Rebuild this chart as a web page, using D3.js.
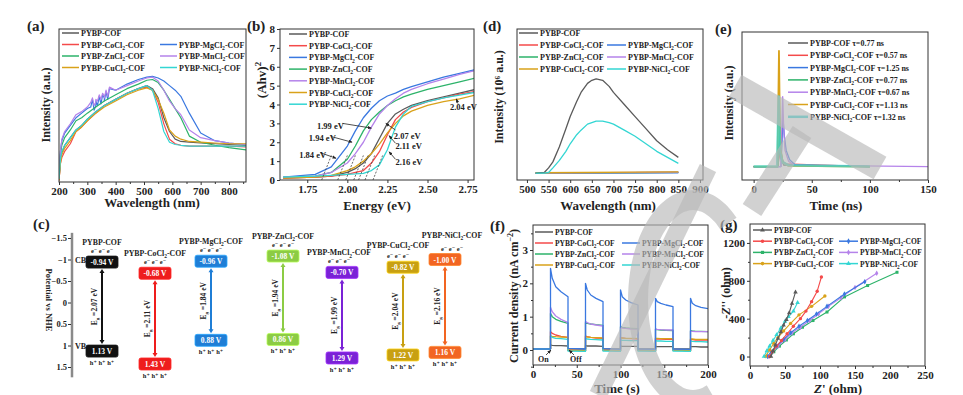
<!DOCTYPE html>
<html>
<head>
<meta charset="utf-8">
<script src="https://cdn.jsdelivr.net/npm/d3@7"></script>
<style>
  body { margin: 0; background: #fff; }
  svg { display: block; }
</style>
</head>
<body>
<svg id="fig" width="963" height="395"></svg>
<script>
// ---------------- data ----------------
const names = ["PYBP-COF", "PYBP-CoCl2-COF", "PYBP-MgCl2-COF", "PYBP-ZnCl2-COF",
               "PYBP-MnCl2-COF", "PYBP-CuCl2-COF", "PYBP-NiCl2-COF"];
const lineColors = ["#5a5a5a", "#f44a4a", "#3a78e0", "#2db36a", "#b583ea", "#d9a21a", "#33d6d3"];

// (a) UV-vis DRS
const aWl = [200,205,210,220,240,260,280,300,330,360,400,440,480,510,530,550,570,590,610,630,660,700,750,800,860];
const aCOF = [0.01,0.14,0.19,0.24,0.29,0.34,0.37,0.41,0.46,0.5,0.54,0.58,0.61,0.63,0.61,0.55,0.42,0.33,0.28,0.265,0.26,0.255,0.25,0.245,0.24];
const aCo  = [0.01,0.12,0.16,0.2,0.25,0.33,0.36,0.4,0.45,0.5,0.54,0.58,0.61,0.62,0.6,0.52,0.38,0.28,0.25,0.24,0.235,0.235,0.235,0.235,0.23];
const aMg  = [0.02,0.2,0.27,0.32,0.37,0.42,0.45,0.48,0.5,0.55,0.6,0.64,0.67,0.685,0.69,0.68,0.66,0.63,0.6,0.56,0.45,0.32,0.27,0.255,0.245];
const aZn  = [0.02,0.18,0.24,0.29,0.34,0.4,0.42,0.45,0.49,0.53,0.57,0.61,0.64,0.665,0.67,0.65,0.6,0.54,0.48,0.42,0.3,0.26,0.24,0.225,0.21];
const aMn  = [0.02,0.2,0.28,0.33,0.38,0.44,0.46,0.49,0.52,0.56,0.6,0.63,0.66,0.68,0.685,0.66,0.6,0.53,0.48,0.44,0.34,0.29,0.27,0.255,0.245];
const aCu  = [0.01,0.12,0.18,0.22,0.27,0.33,0.36,0.4,0.45,0.49,0.53,0.57,0.6,0.615,0.6,0.54,0.45,0.34,0.3,0.28,0.265,0.26,0.255,0.25,0.25];
const aNi  = [0.02,0.15,0.2,0.24,0.29,0.34,0.37,0.41,0.46,0.5,0.54,0.58,0.61,0.63,0.6,0.48,0.33,0.26,0.245,0.24,0.235,0.235,0.235,0.235,0.235];
// noisy stretch seen on the Mg / Mn curves
const aNoiseWl = [312,318,324,330,336,342,348,354,360,366,372,378];
const aMgNoise = [0.49,0.54,0.47,0.53,0.5,0.56,0.51,0.57,0.53,0.59,0.54,0.61];
const aMnNoise = [0.52,0.55,0.5,0.54,0.53,0.57,0.54,0.58,0.55,0.6,0.56,0.62];

// (b) Tauc plot
const bE   = [1.6,1.8,1.9,2.0,2.05,2.1,2.15,2.2,2.25,2.3,2.35,2.4,2.5,2.6,2.7,2.8];
const bCOF = [0.1,0.15,0.2,0.4,0.6,0.9,1.4,2.2,3.0,3.5,3.75,3.95,4.2,4.4,4.6,4.8];
const bCo  = [0.1,0.15,0.2,0.3,0.4,0.5,0.9,1.5,2.4,3.2,3.6,3.85,4.15,4.35,4.55,4.7];
const bMg  = [0.15,0.3,0.7,1.8,2.6,3.3,3.8,4.2,4.45,4.6,4.8,4.95,5.2,5.45,5.65,5.85];
const bZn  = [0.15,0.2,0.4,1.1,1.8,2.6,3.2,3.6,3.95,4.2,4.4,4.55,4.8,5.0,5.2,5.4];
const bMn  = [0.15,0.2,0.4,0.9,1.4,2.0,2.8,3.5,3.95,4.3,4.6,4.8,5.1,5.35,5.6,5.8];
const bCu  = [0.1,0.15,0.25,0.5,0.7,1.0,1.4,1.9,2.5,3.0,3.4,3.65,3.95,4.15,4.3,4.5];
const bNi  = [0.15,0.2,0.25,0.3,0.32,0.35,0.5,0.8,1.6,2.8,3.5,3.9,4.15,4.35,4.5,4.65];
const bEg  = [2.07,2.11,1.84,1.94,1.99,2.04,2.16];
const bTicksX = [1.75,2.0,2.25,2.5,2.75];
const bTicksY = [0,1,2,3,4,5,6,7,8];

// (c) band positions (V vs NHE)
const cCB = [-0.94,-0.68,-0.96,-1.08,-0.70,-0.82,-1.00];
const cVB = [1.13,1.43,0.88,0.86,1.29,1.22,1.16];
const cEg = [2.07,2.11,1.84,1.94,1.99,2.04,2.16];
const cColors = ["#111111","#ee1d1d","#1f7ed6","#8ccc44","#7a22d6","#c8a012","#f26522"];
const cTicks = [-1.5,-1,-0.5,0,0.5,1,1.5];

// (d) PL spectra
const dWl  = [520,540,550,560,575,590,600,615,625,640,650,660,675,690,700,725,750,775,800,825,850];
const dCOF = [0.046,0.05,0.08,0.12,0.22,0.34,0.42,0.52,0.58,0.64,0.66,0.67,0.66,0.62,0.58,0.5,0.42,0.34,0.26,0.2,0.15];
const dNi  = [0.046,0.046,0.05,0.08,0.13,0.19,0.24,0.3,0.33,0.37,0.38,0.39,0.39,0.38,0.37,0.33,0.29,0.24,0.19,0.15,0.11];
const dFlatWl = [520,850];
const dCo = [0.045,0.05], dMg = [0.045,0.048], dZn = [0.045,0.05], dMn = [0.045,0.052], dCu = [0.048,0.054];

// (e) TRPL decays
const eTau = ["0.77","0.57","1.25","0.77","0.67","1.13","1.32"];
const eCOFt = [0,21,22,22.6,23.5,26,100],            eCOF = [0,0,0.1,0.18,0.06,0.01,0];
const eCot  = [0,21,22,22.7,23.8,26,100],            eCo  = [0,0,0.12,0.22,0.08,0.02,0];
const eMgt  = [0,23.5,24.5,25.2,26.5,28,31,36,100],  eMg  = [0,0,0.2,0.36,0.22,0.12,0.05,0.01,0];
const eZnt  = [0,21,21.8,22.5,23.5,25,30,100],       eZn  = [0,0,0.15,0.3,0.12,0.04,0.01,0];
const eMnt  = [0,23.5,24.3,25,25.8,27,30,35,150],    eMn  = [0,0,0.3,0.52,0.3,0.12,0.04,0.01,0];
const eCut  = [0,20.5,21.2,21.8,22.4,23.2,25,30,100],eCu  = [0,0,0.45,0.86,0.45,0.12,0.03,0.005,0];
const eNit  = [0,20.3,21,21.6,22.2,23,25,30,100],    eNi  = [0,0,0.3,0.52,0.3,0.1,0.03,0.01,0];

// (f) transient photocurrent, light on 20-40, 60-80, ...
const fT = [0,20,20,22,26,32,40,40,60,60,62,66,72,80,80,100,100,102,106,112,120,120,140,140,142,146,152,160,160,180,180,182,186,192,200];
const fCOF = [0.03,0.03,0.15,0.14,0.13,0.13,0.12,0.03,0.03,0.13,0.12,0.12,0.12,0.11,0.03,0.03,0.12,0.11,0.11,0.11,0.11,0.03,0.03,0.11,0.1,0.1,0.1,0.1,0.03,0.03,0.1,0.1,0.1,0.09,0.09];
const fCo  = [0.03,0.03,0.55,0.5,0.45,0.41,0.38,0,-0.02,0.42,0.4,0.38,0.36,0.35,0,-0.02,0.38,0.36,0.35,0.34,0.33,0,-0.02,0.34,0.33,0.33,0.32,0.32,0,-0.02,0.31,0.31,0.3,0.3,0.3];
const fMg  = [0.03,0.03,2.45,2.15,1.9,1.75,1.6,0.05,0.03,2.0,1.8,1.65,1.55,1.45,0.04,0.02,1.8,1.6,1.5,1.42,1.35,0.03,0.02,1.55,1.45,1.4,1.35,1.3,0.03,0.02,1.55,1.4,1.33,1.28,1.24];
const fZn  = [0.03,0.03,1.1,1.0,0.92,0.86,0.8,0,-0.02,0.82,0.8,0.78,0.76,0.74,0,-0.02,0.7,0.68,0.66,0.65,0.64,0,-0.02,0.62,0.61,0.6,0.59,0.58,0,-0.02,0.58,0.57,0.56,0.56,0.55];
const fMn  = [0.03,0.03,1.28,1.15,1.02,0.92,0.82,0,-0.02,0.85,0.82,0.78,0.75,0.72,0,-0.02,0.68,0.66,0.65,0.63,0.62,0,-0.02,0.63,0.62,0.61,0.6,0.6,0,-0.02,0.56,0.56,0.55,0.55,0.55];
const fCu  = [0.03,0.03,0.42,0.41,0.4,0.39,0.38,0,-0.02,0.4,0.39,0.38,0.37,0.36,0,-0.02,0.36,0.36,0.35,0.35,0.35,0,-0.02,0.35,0.35,0.34,0.34,0.34,0,-0.02,0.33,0.33,0.32,0.32,0.32];
const fNi  = [0.03,0.03,0.42,0.38,0.35,0.34,0.32,-0.03,-0.04,0.35,0.33,0.32,0.31,0.3,-0.03,-0.04,0.3,0.29,0.29,0.28,0.28,-0.03,-0.04,0.28,0.27,0.27,0.26,0.26,-0.03,-0.04,0.27,0.26,0.25,0.25,0.24];

// (g) Nyquist plots: Z' and -Z''
const gCOFx = [30,33,36,40,44,48,52,56,60,65],          gCOFy = [0,60,120,190,260,330,390,460,560,680];
const gCox  = [28,32,38,45,53,62,72,80,88,96,102],      gCoy  = [0,50,110,170,240,320,400,480,580,690,840];
const gMgx  = [25,30,38,48,58,70,82,95,110,135,164],    gMgy  = [0,50,110,180,250,320,380,450,530,660,790];
const gZnx  = [28,34,42,52,62,75,90,110,135,168,210],   gZny  = [0,50,110,175,240,310,380,470,630,750,890];
const gMnx  = [27,32,40,50,60,72,85,98,112,130,150,181],gMny  = [0,50,110,180,250,310,380,450,530,620,730,880];
const gCux  = [22,28,34,40,48,58,70,88,107],            gCuy  = [0,70,140,200,270,350,440,530,640];
const gNix  = [20,24,28,33,38,44,50,55,62,68],          gNiy  = [0,60,110,170,230,300,370,420,480,570];

// ---------------- drawing ----------------
const FONT = '"Liberation Serif", "DejaVu Serif", "Times New Roman", serif';
const svg = d3.select("#fig");
const defs = svg.append("defs");
defs.append("marker").attr("id", "arr").attr("viewBox", "0 0 10 10").attr("refX", 9).attr("refY", 5)
  .attr("markerWidth", 5).attr("markerHeight", 5).attr("orient", "auto-start-reverse")
  .append("path").attr("d", "M0,1 L10,5 L0,9 z").attr("fill", "#222");

function T(parent, x, y, s, fs, anchor, fill) {
  return parent.append("text").attr("x", x).attr("y", y)
    .attr("font-family", FONT).attr("font-weight", "bold")
    .attr("font-size", fs || 11).attr("text-anchor", anchor || "start")
    .attr("fill", fill || "#222").text(s);
}
// writes a sample name with the subscript 2
function nameText(sel, name, fs) {
  const parts = name.split("Cl2");
  if (parts.length < 2) { sel.text(name); return sel; }
  sel.text(null);
  sel.append("tspan").text(parts[0] + "Cl");
  sel.append("tspan").attr("font-size", fs * 0.7).attr("dy", fs * 0.28).text("2");
  sel.append("tspan").attr("dy", -fs * 0.28).text(parts[1]);
  return sel;
}

let clipN = 0;
function panel(box, xd, yd) {
  const x = d3.scaleLinear().domain(xd).range([box.x0, box.x1]);
  const y = d3.scaleLinear().domain(yd).range([box.y1, box.y0]);
  const g = svg.append("g");
  const id = "clip" + (++clipN);
  defs.append("clipPath").attr("id", id).append("rect")
    .attr("x", box.x0).attr("y", box.y0).attr("width", box.x1 - box.x0).attr("height", box.y1 - box.y0);
  const plot = g.append("g").attr("clip-path", `url(#${id})`);
  return { x, y, g, plot, box };
}
function frame(p) {
  p.g.append("rect").attr("x", p.box.x0).attr("y", p.box.y0)
    .attr("width", p.box.x1 - p.box.x0).attr("height", p.box.y1 - p.box.y0)
    .attr("fill", "none").attr("stroke", "#333").attr("stroke-width", 1);
}
function styleAxis(g) {
  g.select(".domain").remove();
  g.selectAll("text").attr("font-family", FONT).attr("font-weight", "bold").attr("font-size", 11).attr("fill", "#222");
  g.selectAll("line").attr("stroke", "#333");
}
function bottomAxis(p, ticks, fmt, minor) {
  const g = p.g.append("g").attr("transform", `translate(0,${p.box.y1})`)
    .call(d3.axisBottom(p.x).tickValues(ticks).tickSize(3).tickPadding(2).tickFormat(fmt || d3.format("d")));
  styleAxis(g);
  if (minor) styleAxis(p.g.append("g").attr("transform", `translate(0,${p.box.y1})`)
    .call(d3.axisBottom(p.x).tickValues(minor).tickSize(2).tickFormat("")));
}
function leftAxis(p, ticks, fmt, minor) {
  const g = p.g.append("g").attr("transform", `translate(${p.box.x0},0)`)
    .call(d3.axisLeft(p.y).tickValues(ticks).tickSize(3).tickPadding(2).tickFormat(fmt || d3.format("d")));
  styleAxis(g);
  if (minor) styleAxis(p.g.append("g").attr("transform", `translate(${p.box.x0},0)`)
    .call(d3.axisLeft(p.y).tickValues(minor).tickSize(2).tickFormat("")));
}
function drawLine(p, xs, ys, color, w, op) {
  p.plot.append("path").datum(d3.zip(xs, ys))
    .attr("d", d3.line().x(d => p.x(d[0])).y(d => p.y(d[1])))
    .attr("fill", "none").attr("stroke", color).attr("stroke-width", w || 1.2)
    .attr("stroke-opacity", op || 1).attr("stroke-linejoin", "round");
}
function yTitle(x, y, s, fs, rot) {
  return T(svg, 0, 0, s, fs || 12, "middle").attr("transform", `translate(${x},${y}) rotate(${rot || -90})`);
}
// legend: rows of [index,...]; columns at cx[], first row y0, step dy
function legend(rows, cx, y0, dy, len, fs, marker) {
  rows.forEach((row, r) => row.forEach((i, c) => {
    const yy = y0 + r * dy;
    svg.append("line").attr("x1", cx[c]).attr("x2", cx[c] + len).attr("y1", yy).attr("y2", yy)
      .attr("stroke", lineColors[i]).attr("stroke-width", 1.5);
    if (marker) svg.append("path").attr("d", d3.symbol(marker[i], 10)())
      .attr("transform", `translate(${cx[c] + len / 2},${yy})`).attr("fill", lineColors[i]);
    nameText(T(svg, cx[c] + len + 2, yy + 3, "", fs), names[i], fs);
  }));
}
const gridRows = [[0], [1, 2], [3, 4], [5, 6]];

// ---- (a) ----
const pa = panel({ x0: 59, x1: 246, y0: 29, y1: 182 }, [200, 860], [0, 1]);
[aCOF, aCo, aMg, aZn, aMn, aCu, aNi].forEach((vals, i) => {
  let pts = d3.zip(aWl, vals);
  if (i === 2) pts = pts.concat(d3.zip(aNoiseWl, aMgNoise)).sort((p, q) => p[0] - q[0]);
  if (i === 4) pts = pts.concat(d3.zip(aNoiseWl, aMnNoise)).sort((p, q) => p[0] - q[0]);
  drawLine(pa, pts.map(d => d[0]), pts.map(d => d[1]), lineColors[i], 1.2);
});
frame(pa);
bottomAxis(pa, d3.range(200, 801, 100), null, d3.range(250, 860, 100));
legend(gridRows, [62, 160], 33, 11.5, 17, 8);
T(svg, 27, 31, "(a)", 15);
T(svg, 152, 207, "Wavelength (nm)", 13, "middle");
yTitle(50, 105, "Intensity (a.u.)", 12);

// ---- (b) ----
const pb = panel({ x0: 280, x1: 474, y0: 29, y1: 180 }, [1.58, 2.79], [0, 8]);
[bCOF, bCo, bMg, bZn, bMn, bCu, bNi].forEach((vals, i) =>
  drawLine(pb, bE, vals, lineColors[i], 1.3));
bEg.forEach(e => pb.plot.append("line")
  .attr("x1", pb.x(e)).attr("y1", pb.y(0)).attr("x2", pb.x(e + 0.06)).attr("y2", pb.y(1.3))
  .attr("stroke", "#444").attr("stroke-width", 0.8).attr("stroke-dasharray", "2,1.5"));
frame(pb);
bottomAxis(pb, bTicksX, d3.format(".2f"));
leftAxis(pb, bTicksY);
legend([[0], [1], [2], [3], [4], [5], [6]], [289], 34, 11.7, 18, 8);
// energy annotations: [label, text x, text y, arrow from, arrow to] in data units
const bNotes = [
  ["1.99 eV", 1.81, 2.85, [1.97, 3.0], [2.15, 2.75]],
  ["1.94 eV", 1.76, 2.2, [1.9, 2.3], [2.03, 2.0]],
  ["1.84 eV", 1.70, 1.35, [1.83, 1.45], [1.93, 1.15]],
  ["2.07 eV", 2.29, 2.35, [2.3, 2.65], [2.24, 3.0]],
  ["2.04 eV", 2.64, 3.85, [2.69, 4.05], [2.68, 4.3]],
  ["2.11 eV", 2.3, 1.8, [2.3, 1.95], [2.26, 2.35]],
  ["2.16 eV", 2.3, 0.95, [2.3, 1.1], [2.26, 1.5]]
];
bNotes.forEach(n => {
  T(svg, pb.x(n[1]), pb.y(n[2]) + 3, n[0], 8.5);
  svg.append("line").attr("x1", pb.x(n[3][0])).attr("y1", pb.y(n[3][1]))
    .attr("x2", pb.x(n[4][0])).attr("y2", pb.y(n[4][1]))
    .attr("stroke", "#222").attr("stroke-width", 0.8).attr("marker-end", "url(#arr)");
});
T(svg, 247, 31, "(b)", 15);
T(svg, 377, 210, "Energy (eV)", 13, "middle");
const ahv = yTitle(266, 80, "(Ahv)", 13);
ahv.append("tspan").attr("font-size", 9).attr("dy", -5).text("2");

// ---- (c) ----
const cX = [102, 155, 211, 283, 342, 403, 445];   // column centres (layout)
const cLabelDx = [0, 0, 0, 0, -3, -5, 7];         // name label nudges (layout)
const cLabelDy = [0, 0, 0, 0, 0, -2, -5];
const cy = d3.scaleLinear().domain([-1.5, 1.5]).range([238, 367]);
const cAxisX = 72;
svg.append("line").attr("x1", cAxisX).attr("x2", cAxisX).attr("y1", cy(-1.62)).attr("y2", cy(1.74))
  .attr("stroke", "#8a8a8a").attr("stroke-width", 2.5);
const cAx = svg.append("g").attr("transform", `translate(${cAxisX - 1},0)`)
  .call(d3.axisLeft(cy).tickValues(cTicks).tickSize(3).tickPadding(1).tickFormat(d3.format("")));
styleAxis(cAx);
cAx.selectAll("text").attr("font-size", 8.5);
T(svg, cAxisX + 3, cy(-1) + 3, "CB", 8);
T(svg, cAxisX + 3, cy(1) + 3, "VB", 8);
yTitle(46, 300, "Potential vs NHE", 8.5, 90);
T(svg, 33, 229, "(c)", 15);
names.forEach((nm, i) => {
  const x = cX[i], c = cColors[i], yc = cy(cCB[i]), yv = cy(cVB[i]);
  nameText(T(svg, x + cLabelDx[i], yc - 17 + cLabelDy[i], "", 7.8, "middle"), nm, 7.8);
  T(svg, x + cLabelDx[i], yc - 9, "e\u207B e\u207B e\u207B", 6.5, "middle");
  [[yc, cCB[i]], [yv, cVB[i]]].forEach(([yy, v]) => {
    svg.append("rect").attr("x", x - 16).attr("y", yy - 6).attr("width", 32).attr("height", 12)
      .attr("rx", 2).attr("fill", c).attr("stroke", d3.color(c).brighter(0.8)).attr("stroke-width", 0.8);
    T(svg, x, yy + 3, v.toFixed(2) + " V", 7.5, "middle", "#fff");
  });
  T(svg, x, yv + 14, "h\u207A h\u207A h\u207A", 6.5, "middle");
  // double arrow between the band edges
  const y1 = yc + 7, y2 = yv - 7;
  svg.append("line").attr("x1", x).attr("x2", x).attr("y1", y1 + 3).attr("y2", y2 - 3)
    .attr("stroke", c).attr("stroke-width", 2);
  svg.append("path").attr("d", `M${x - 2.5},${y1 + 4}L${x},${y1}L${x + 2.5},${y1 + 4}Z`).attr("fill", c);
  svg.append("path").attr("d", `M${x - 2.5},${y2 - 4}L${x},${y2}L${x + 2.5},${y2 - 4}Z`).attr("fill", c);
  const eg = T(svg, 0, 0, "E", 7.5, "middle").attr("transform", `translate(${x - 5},${(y1 + y2) / 2}) rotate(-90)`);
  eg.append("tspan").attr("font-size", 5).attr("dy", 2).text("g");
  eg.append("tspan").attr("dy", -2).text(" =" + cEg[i].toFixed(2) + " eV");
});

// ---- (d) ----
const pd = panel({ x0: 517, x1: 703, y0: 29, y1: 180 }, [477, 907], [0, 1]);
[[dFlatWl, dCo, 1], [dFlatWl, dMg, 2], [dFlatWl, dZn, 3], [dFlatWl, dMn, 4], [dFlatWl, dCu, 5],
 [dWl, dCOF, 0], [dWl, dNi, 6]].forEach(s => drawLine(pd, s[0], s[1], lineColors[s[2]], 1.3));
frame(pd);
bottomAxis(pd, d3.range(500, 901, 50));
legend(gridRows, [519, 607], 33, 12, 19, 8);
T(svg, 483, 31, "(d)", 15);
T(svg, 608, 210, "Wavelength (nm)", 13, "middle");
yTitle(503, 97, "Intensity (10\u2076 a.u.)", 12);

// ---- (e) ----
const pe = panel({ x0: 742, x1: 928, y0: 32, y1: 180 }, [-10, 150], [-0.1, 1.0]);
[[eCOFt, eCOF, 0], [eCot, eCo, 1], [eZnt, eZn, 3], [eMgt, eMg, 2], [eMnt, eMn, 4], [eCut, eCu, 5], [eNit, eNi, 6]]
  .forEach(s => drawLine(pe, s[0], s[1], lineColors[s[2]], s[2] === 6 ? 2.6 : (s[2] === 5 ? 1.8 : 1.3), s[2] === 6 ? 0.75 : 1));
frame(pe);
bottomAxis(pe, [0, 50, 100, 150], null, [25, 75, 125]);
names.forEach((nm, i) => {
  const yy = 43 + i * 12.3;
  svg.append("line").attr("x1", 788).attr("x2", 808).attr("y1", yy).attr("y2", yy)
    .attr("stroke", lineColors[i]).attr("stroke-width", i === 6 ? 2.5 : 1.5);
  const t = nameText(T(svg, 810, yy + 3, "", 8), nm, 8);
  t.append("tspan").text(" \u03C4=" + eTau[i] + " ns");
});
T(svg, 715, 34, "(e)", 15);
T(svg, 836, 210, "Time (ns)", 13, "middle");
yTitle(733, 103, "Intensity (a.u.)", 12);

// ---- (f) ----
const pf = panel({ x0: 533, x1: 708, y0: 225, y1: 365 }, [0, 200], [-0.45, 3.75]);
[[fCOF, 0], [fZn, 3], [fMn, 4], [fCo, 1], [fCu, 5], [fNi, 6], [fMg, 2]]
  .forEach(s => drawLine(pf, fT, s[0], lineColors[s[1]], 1.3));
frame(pf);
bottomAxis(pf, d3.range(0, 201, 50), null, d3.range(25, 200, 50));
leftAxis(pf, [0, 1, 2, 3], null, [-0.5, 0.5, 1.5, 2.5, 3.5]);
legend(gridRows, [535, 622], 232, 11, 18, 7.5);
T(svg, 538, 362, "On", 8);
T(svg, 570, 362, "Off", 8);
svg.append("line").attr("x1", 546).attr("y1", 355).attr("x2", 551).attr("y2", 350)
  .attr("stroke", "#222").attr("stroke-width", 0.8).attr("marker-end", "url(#arr)");
svg.append("line").attr("x1", 574).attr("y1", 355).attr("x2", 569).attr("y2", 350)
  .attr("stroke", "#222").attr("stroke-width", 0.8).attr("marker-end", "url(#arr)");
T(svg, 490, 231, "(f)", 15);
T(svg, 617, 393, "Time (s)", 13, "middle");
const cd = yTitle(518, 296, "Current density (nA cm", 12);
cd.append("tspan").attr("font-size", 8).attr("dy", -5).text("\u22122");
cd.append("tspan").attr("dy", 5).text(")");

// ---- (g) ----
const pg = panel({ x0: 750, x1: 925, y0: 224, y1: 366 }, [0, 250], [-100, 1400]);
const gSym = [d3.symbolTriangle, d3.symbolCircle, d3.symbolDiamond, d3.symbolSquare,
              d3.symbolDiamond, d3.symbolCircle, d3.symbolTriangle];
[[gZnx, gZny, 3], [gMnx, gMny, 4], [gMgx, gMgy, 2], [gCux, gCuy, 5], [gCox, gCoy, 1], [gNix, gNiy, 6], [gCOFx, gCOFy, 0]]
  .forEach(([xs, ys, i]) => {
    drawLine(pg, xs, ys, lineColors[i], 1.1);
    pg.plot.selectAll(null).data(d3.zip(xs, ys)).join("path")
      .attr("d", d3.symbol(gSym[i], 9)())
      .attr("transform", d => `translate(${pg.x(d[0])},${pg.y(d[1])})`)
      .attr("fill", lineColors[i]);
  });
frame(pg);
bottomAxis(pg, d3.range(0, 251, 50), null, d3.range(25, 250, 50));
leftAxis(pg, [0, 400, 800, 1200], null, [200, 600, 1000]);
legend(gridRows, [753, 839], 230, 11.2, 19, 7.5, gSym);
T(svg, 720, 230, "(g)", 15);
const zx = T(svg, 838, 393, "", 13, "middle");
zx.append("tspan").attr("font-style", "italic").text("Z");
zx.append("tspan").text("' (ohm)");
const zy = yTitle(730, 293, "-", 12);
zy.append("tspan").attr("font-style", "italic").text("Z");
zy.append("tspan").text("'' (ohm)");

// ---- faint watermark strokes over the right half ----
const wm = svg.append("g").attr("fill", "none").attr("stroke", "#b9b9b9").attr("stroke-opacity", 0.65);
wm.append("line").attr("x1", 735).attr("y1", 86).attr("x2", 880).attr("y2", 168).attr("stroke-width", 26);
wm.append("line").attr("x1", 802).attr("y1", 132).attr("x2", 752).attr("y2", 210).attr("stroke-width", 22);
wm.append("line").attr("x1", 708).attr("y1", 168).attr("x2", 598).attr("y2", 395).attr("stroke-width", 18);
const arcPts = d3.range(-50, -292, -4).map(a => {
  const r = a * Math.PI / 180;
  return [693 + 55 * Math.cos(r), 300 + 100 * Math.sin(r)];
});
wm.append("path").attr("d", d3.line().curve(d3.curveBasis)(arcPts)).attr("stroke-width", 20);
</script>
</body>
</html>
